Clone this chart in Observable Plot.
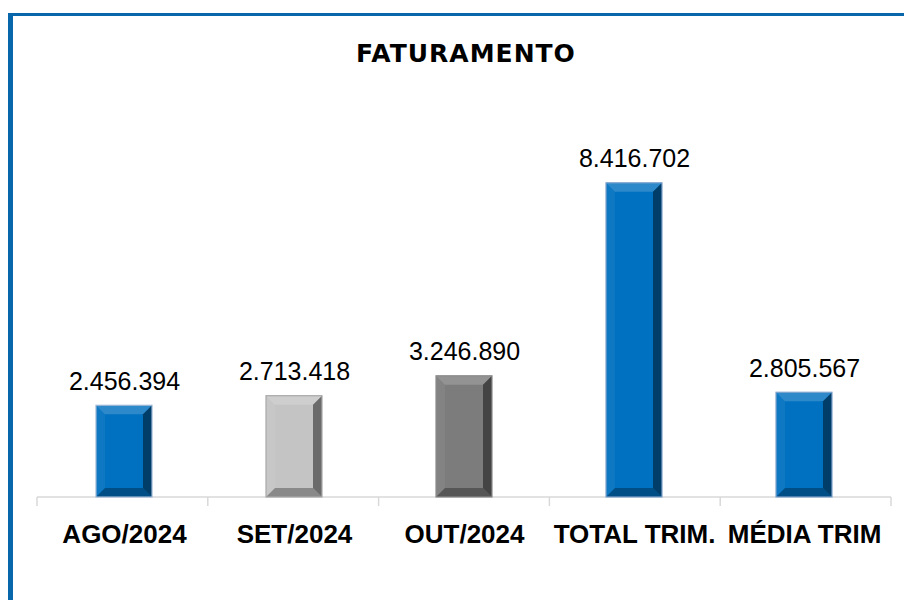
<!DOCTYPE html>
<html>
<head>
<meta charset="utf-8">
<script src="https://cdn.jsdelivr.net/npm/d3@7"></script>
<script src="https://cdn.jsdelivr.net/npm/@observablehq/plot@0.6"></script>
<style>
  html, body { margin: 0; padding: 0; background: #fff; overflow: hidden; }
  #wrap { position: relative; width: 904px; height: 600px; overflow: hidden; }
  #frame { position: absolute; left: 8px; top: 13px; width: 1000px; height: 700px;
           border-top: 3px solid #0866AA; border-left: 5px solid #0866AA; box-sizing: border-box; }
  #title { position: absolute; left: 0; width: 932px; top: 39px; text-align: center;
           font-family: "DejaVu Sans", sans-serif; font-weight: bold; font-size: 25px;
           letter-spacing: 1px; color: #000; }
  #chart { position: absolute; left: 0; top: 0; }
</style>
</head>
<body>
<div id="wrap">
  <div id="frame"></div>
  <div id="chart"></div>
  <div id="title">FATURAMENTO</div>
</div>
<script>
const categories = ["AGO/2024", "SET/2024", "OUT/2024", "TOTAL TRIM.", "MÉDIA TRIM"];
const values = [2456394, 2713418, 3246890, 8416702, 2805567];
const colors = ["#0070C0", "#C4C4C4", "#7C7C7C", "#0070C0", "#0070C0"];
const outlines = ["#9DB7D6", "#A8A8A8", "#8A8A8A", "#7FA3CC", "#7FA3CC"];

const data = categories.map((c, i) => ({cat: c, value: values[i], color: colors[i], outline: outlines[i]}));
const fmt = d3.formatLocale({decimal: ",", thousands: ".", grouping: [3], currency: ["R$", ""]}).format(",d");
const ns = "http://www.w3.org/2000/svg";

function bevel(index, scales, vals, dims, context, next) {
  const g = next(index, scales, vals, dims, context);
  const b = 9;
  const rects = Array.from(g.querySelectorAll("rect"));
  rects.forEach(r => {
    const x = +r.getAttribute("x"), y = +r.getAttribute("y");
    const w = +r.getAttribute("width"), h = +r.getAttribute("height");
    const polys = [
      [[x, y], [x + w, y], [x + w - b, y + b], [x + b, y + b], "#fff", 0.18],
      [[x, y], [x + b, y + b], [x + b, y + h - b], [x, y + h], "#fff", 0.06],
      [[x + w, y], [x + w, y + h], [x + w - b, y + h - b], [x + w - b, y + b], "#000", 0.45],
      [[x, y + h], [x + b, y + h - b], [x + w - b, y + h - b], [x + w, y + h], "#000", 0.3]
    ];
    polys.forEach(p => {
      const el = document.createElementNS(ns, "polygon");
      el.setAttribute("points", p.slice(0, 4).map(q => q.join(",")).join(" "));
      el.setAttribute("fill", p[4]);
      el.setAttribute("fill-opacity", p[5]);
      g.appendChild(el);
    });
    const o = document.createElementNS(ns, "rect");
    o.setAttribute("x", x); o.setAttribute("y", y);
    o.setAttribute("width", w); o.setAttribute("height", h);
    o.setAttribute("fill", "none");
    o.setAttribute("stroke", r.getAttribute("stroke") || "#999");
    o.setAttribute("stroke-width", 1.2);
    g.appendChild(o);
    r.removeAttribute("stroke");
  });
  return g;
}

function bandTicks(index, scales, vals, dims) {
  const g = document.createElementNS(ns, "g");
  const y0 = scales.y(0);
  const x0 = dims.marginLeft, x1 = dims.width - dims.marginRight;
  const n = categories.length;
  const mk = (a, b, c, d) => {
    const l = document.createElementNS(ns, "line");
    l.setAttribute("x1", a); l.setAttribute("y1", b);
    l.setAttribute("x2", c); l.setAttribute("y2", d);
    l.setAttribute("stroke", "#D9D9D9"); l.setAttribute("stroke-width", 1.5);
    g.appendChild(l);
  };
  mk(x0, y0, x1, y0);
  for (let i = 0; i <= n; i++) {
    const xx = x0 + (x1 - x0) * i / n;
    mk(xx, y0, xx, y0 + 9);
  }
  return g;
}

const chart = Plot.plot({
  width: 904,
  height: 600,
  marginLeft: 37,
  marginRight: 13,
  marginTop: 161,
  marginBottom: 103,
  style: {background: "transparent", overflow: "visible"},
  x: {domain: categories, paddingInner: 0.672, paddingOuter: 0.336, label: null},
  y: {domain: [0, 9000000], axis: null},
  marks: [
    bandTicks,
    Plot.barY(data, {x: "cat", y: "value", fill: "color", stroke: "outline", render: bevel}),
    Plot.text(data, {x: "cat", y: "value", text: d => fmt(d.value), dy: -16, lineAnchor: "bottom",
      fontSize: 25, fill: "#000", fontFamily: "'Liberation Sans', Arial, sans-serif"}),
    Plot.axisX({tickSize: 0, tickPadding: 27, fontSize: 26, fontWeight: "bold",
      fontFamily: "'Liberation Sans', Arial, sans-serif", fill: "#000", label: null})
  ]
});
document.getElementById("chart").appendChild(chart);
</script>
</body>
</html>
